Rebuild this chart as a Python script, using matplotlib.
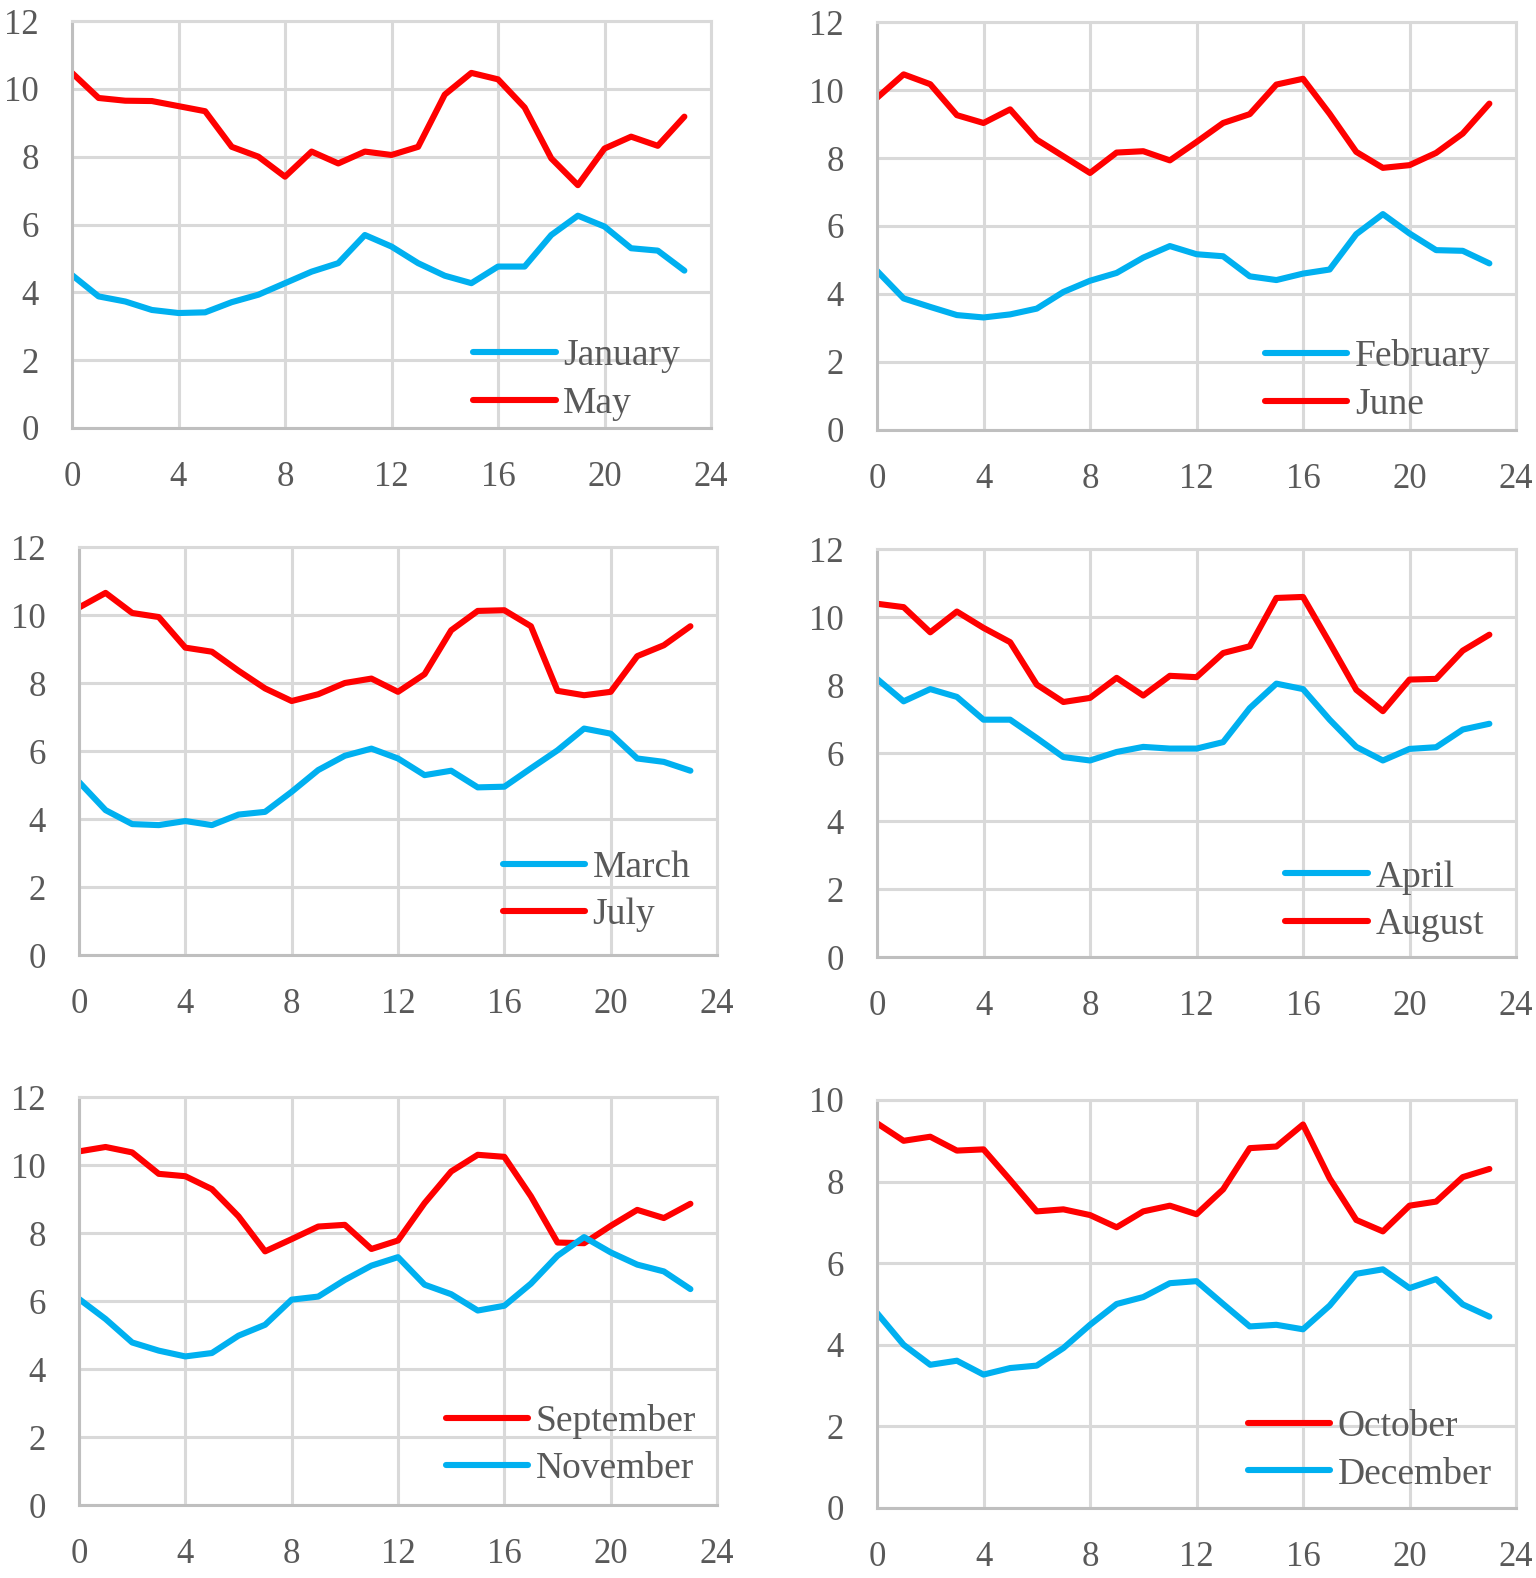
import matplotlib
matplotlib.use("Agg")
import matplotlib.pyplot as plt

hours = list(range(24))

january = [4.51, 3.88, 3.73, 3.48, 3.39, 3.41, 3.71, 3.93, 4.27, 4.61, 4.86, 5.69,
           5.35, 4.86, 4.49, 4.27, 4.76, 4.76, 5.69, 6.26, 5.94, 5.30, 5.23, 4.64]
may = [10.47, 9.73, 9.65, 9.64, 9.49, 9.34, 8.29, 8.00, 7.41, 8.15, 7.80, 8.15,
       8.05, 8.29, 9.83, 10.47, 10.28, 9.45, 7.95, 7.16, 8.24, 8.59, 8.32, 9.18]
february = [4.68, 3.87, 3.62, 3.38, 3.31, 3.40, 3.57, 4.06, 4.39, 4.62, 5.07, 5.41,
            5.17, 5.11, 4.52, 4.41, 4.60, 4.72, 5.76, 6.35, 5.78, 5.29, 5.27, 4.90]
june = [9.77, 10.46, 10.17, 9.26, 9.03, 9.43, 8.54, 8.05, 7.56, 8.16, 8.20, 7.93,
        8.47, 9.03, 9.29, 10.16, 10.33, 9.30, 8.18, 7.71, 7.79, 8.15, 8.72, 9.60]
march = [5.09, 4.26, 3.85, 3.82, 3.94, 3.82, 4.13, 4.21, 4.80, 5.44, 5.86, 6.07,
         5.78, 5.29, 5.42, 4.93, 4.95, 5.49, 6.02, 6.66, 6.51, 5.78, 5.68, 5.42]
july = [10.22, 10.65, 10.06, 9.94, 9.04, 8.92, 8.36, 7.84, 7.47, 7.67, 8.00, 8.13,
        7.74, 8.26, 9.55, 10.12, 10.14, 9.67, 7.77, 7.64, 7.74, 8.79, 9.11, 9.67]
april = [8.18, 7.52, 7.88, 7.65, 6.98, 6.98, 6.44, 5.88, 5.78, 6.03, 6.18, 6.13,
         6.13, 6.32, 7.32, 8.04, 7.88, 6.98, 6.18, 5.78, 6.12, 6.17, 6.69, 6.86]
august = [10.39, 10.29, 9.55, 10.16, 9.68, 9.26, 8.01, 7.50, 7.62, 8.21, 7.69, 8.27,
          8.23, 8.94, 9.14, 10.56, 10.59, 9.24, 7.86, 7.23, 8.16, 8.18, 9.01, 9.48]
september = [10.40, 10.53, 10.37, 9.74, 9.67, 9.29, 8.49, 7.46, 7.82, 8.19, 8.24, 7.53,
             7.78, 8.88, 9.81, 10.30, 10.24, 9.08, 7.72, 7.70, 8.21, 8.68, 8.44, 8.86]
november = [6.06, 5.47, 4.78, 4.54, 4.37, 4.47, 4.98, 5.30, 6.04, 6.13, 6.62, 7.04,
            7.29, 6.48, 6.20, 5.72, 5.86, 6.51, 7.33, 7.88, 7.43, 7.07, 6.87, 6.35]
october = [9.43, 9.00, 9.10, 8.76, 8.79, 8.04, 7.27, 7.32, 7.18, 6.88, 7.27, 7.41,
           7.20, 7.81, 8.82, 8.86, 9.40, 8.08, 7.06, 6.78, 7.41, 7.51, 8.11, 8.31]
december = [4.78, 4.00, 3.51, 3.61, 3.27, 3.43, 3.49, 3.92, 4.49, 5.00, 5.17, 5.51,
            5.56, 5.00, 4.45, 4.49, 4.38, 4.96, 5.74, 5.85, 5.39, 5.61, 4.99, 4.69]

x_ticks = [0, 4, 8, 12, 16, 20, 24]
y_ticks_12 = [0, 2, 4, 6, 8, 10, 12]
y_ticks_10 = [0, 2, 4, 6, 8, 10]

RED = "#FF0000"
CYAN = "#00B0F0"
TXT = "#595959"
GRID = "#D9D9D9"
AXIS = "#BFBFBF"

plt.rcParams["font.family"] = ["Liberation Serif", "DejaVu Serif"]

W, H = 1536, 1578
fig = plt.figure(figsize=(W / 100, H / 100), dpi=100)

# panels: (x0px, x24px, ytop_px, y0_px, series list, ymax, yticks, legend anchor)
panels = [
    (72, 711, 21, 428, [("January", january, CYAN), ("May", may, RED)], 12, y_ticks_12, (0.628, 0.118)),
    (877, 1516, 22, 430, [("February", february, CYAN), ("June", june, RED)], 12, y_ticks_12, (0.607, 0.121)),
    (79, 717, 547, 955, [("March", march, CYAN), ("July", july, RED)], 12, y_ticks_12, (0.664, 0.156)),
    (877, 1516, 549, 957, [("April", april, CYAN), ("August", august, RED)], 12, y_ticks_12, (0.639, 0.137)),
    (79, 717, 1097, 1505, [("September", september, RED), ("November", november, CYAN)], 12, y_ticks_12, (0.575, 0.147)),
    (877, 1516, 1100, 1508, [("October", october, RED), ("December", december, CYAN)], 10, y_ticks_10, (0.58, 0.141)),
]

FS = 25

for x0, x1, yt, yb, series, ymax, yticks, anchor in panels:
    ax = fig.add_axes([x0 / W, 1 - yb / H, (x1 - x0) / W, (yb - yt) / H])
    for name, vals, col in series:
        ax.plot(hours, vals, color=col, lw=4.4, label=name, solid_capstyle="round",
                solid_joinstyle="round")
    ax.set_xlim(0, 24)
    ax.set_ylim(0, ymax)
    ax.set_xticks(x_ticks)
    ax.set_yticks(yticks)
    ax.grid(True, color=GRID, lw=2.2)
    ax.set_axisbelow(True)
    for s in ["top", "right"]:
        ax.spines[s].set_color(GRID)
        ax.spines[s].set_linewidth(2.2)
    for s in ["left", "bottom"]:
        ax.spines[s].set_color(AXIS)
        ax.spines[s].set_linewidth(2.2)
    ax.tick_params(axis="both", length=0, labelsize=FS, labelcolor=TXT)
    ax.tick_params(axis="x", pad=24)
    ax.tick_params(axis="y", pad=24)
    leg = ax.legend(loc="center left", bbox_to_anchor=anchor, frameon=False,
                    fontsize=27, handlelength=2.2, handletextpad=0.2,
                    labelspacing=0.35, borderpad=0, borderaxespad=0)
    for t in leg.get_texts():
        t.set_color(TXT)

fig.savefig("out.png", dpi=100)
